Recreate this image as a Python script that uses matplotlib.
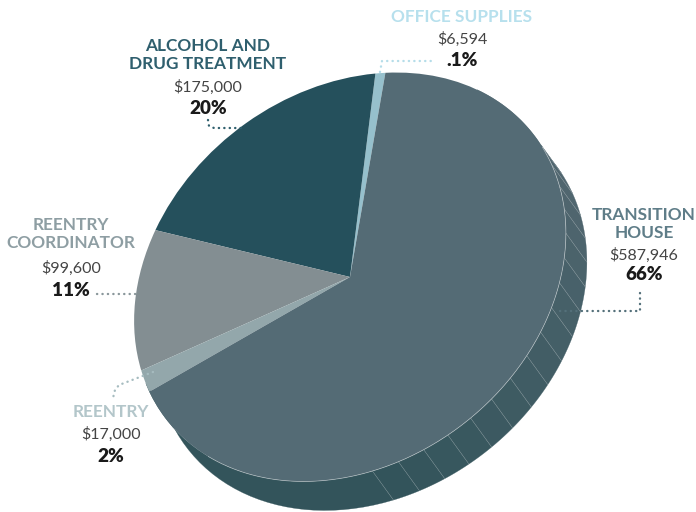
import numpy as np
import matplotlib
matplotlib.use("Agg")
import matplotlib.pyplot as plt
from matplotlib.transforms import Affine2D

# pie data, counterclockwise from the top
categories = ["Office Supplies", "Alcohol and Drug Treatment", "Reentry Coordinator", "Reentry", "Transition House"]
amounts = [6594, 175000, 99600, 17000, 587946]
amount_labels = ["$6,594", "$175,000", "$99,600", "$17,000", "$587,946"]
percent_labels = [".1%", "20%", "11%", "2%", "66%"]
name_labels = ["OFFICE SUPPLIES", "ALCOHOL AND\nDRUG TREATMENT", "REENTRY\nCOORDINATOR", "REENTRY", "TRANSITION\nHOUSE"]

slice_colors = ["#96c0cc", "#25505c", "#838e92", "#93a7ab", "#546b75"]
name_colors = ["#b7e0ed", "#2f5f6e", "#8e9ea3", "#b3c6ca", "#5f7d88"]
line_colors = ["#b5dde9", "#2f5f6d", "#8a979b", "#a6bcc0", "#54707a"]

FONT = "Lato"
DARK = "#1a1a1a"

fig = plt.figure(figsize=(6.96, 5.12), dpi=100)
ax = fig.add_axes([0, 0, 1, 1])

wedges, _ = ax.pie(amounts, colors=slice_colors, startangle=86.6, wedgeprops={"linewidth": 0, "zorder": 3})

ax.set_aspect("auto")
ax.set_xlim(0, 696)
ax.set_ylim(512, 0)
ax.axis("off")

# tilted disc: unit circle to pixel positions
tilt = Affine2D.from_values(214.7, -22.7, 22.7, -203.2, 350, 277)
for w in wedges:
    w.set_transform(tilt + ax.transData)


def rim(deg):
    t = np.radians(deg)
    return tilt.transform(np.column_stack([np.cos(t), np.sin(t)]))


# extruded side, split in facets
depth = np.array([21, 29])
edges = np.r_[-155, np.arange(-78, 35, 7), 60]
dark_side = np.array(matplotlib.colors.to_rgb("#33545b"))
light_side = np.array(matplotlib.colors.to_rgb("#50666f"))
for i in range(len(edges) - 1):
    arc = rim(np.linspace(edges[i], edges[i + 1], 30))
    frac = np.clip((edges[i] + 78) / 95, 0, 1)
    ax.fill(*np.vstack([arc, (arc + depth)[::-1]]).T,
            color=dark_side + (light_side - dark_side) * frac, lw=0.2, zorder=1)

for deg in np.arange(-78, 35, 7):
    p = rim(np.array([deg]))[0]
    ax.plot(*np.array([p, p + depth]).T, color="white", alpha=0.25, lw=0.4, zorder=2)

ax.plot(*rim(np.linspace(-125, 33, 200)).T, color="white", alpha=0.5, lw=0.5, zorder=4)

# dotted leaders
leaders = [
    [(380, 72), (382, 61), (435, 61)],
    [(208, 120), (209, 126), (214, 128), (245, 128)],
    [(97, 294), (137, 294)],
    [(153, 372), (119, 385), (115, 390), (113, 398)],
    [(640, 293), (640, 311), (560, 311)],
]
for pts, c in zip(leaders, line_colors):
    ax.plot(*np.array(pts).T, color=c, lw=1.7, ls=(0, (0.1, 2.2)), dash_capstyle="round", zorder=5)

# label blocks: x center, y of name line(s), amount, percent
label_x = [462, 208, 71, 111, 644]
name_y = [17, 55, 234, 412, 224]
amount_y = [39, 87, 268, 434, 255]
percent_y = [60, 109, 290, 456, 275]

for i in range(len(categories)):
    ax.text(label_x[i], name_y[i], name_labels[i], color=name_colors[i], ha="center", va="center",
            fontsize=12.4, fontweight="bold", family=FONT, linespacing=1.22)
    ax.text(label_x[i], amount_y[i], amount_labels[i], color="#444444", ha="center", va="center",
            fontsize=11.5, fontweight="regular", family=FONT)
    ax.text(label_x[i], percent_y[i], percent_labels[i], color=DARK, ha="center", va="center",
            fontsize=13.6, fontweight="heavy", family=FONT)

fig.savefig("out.png", dpi=100)
